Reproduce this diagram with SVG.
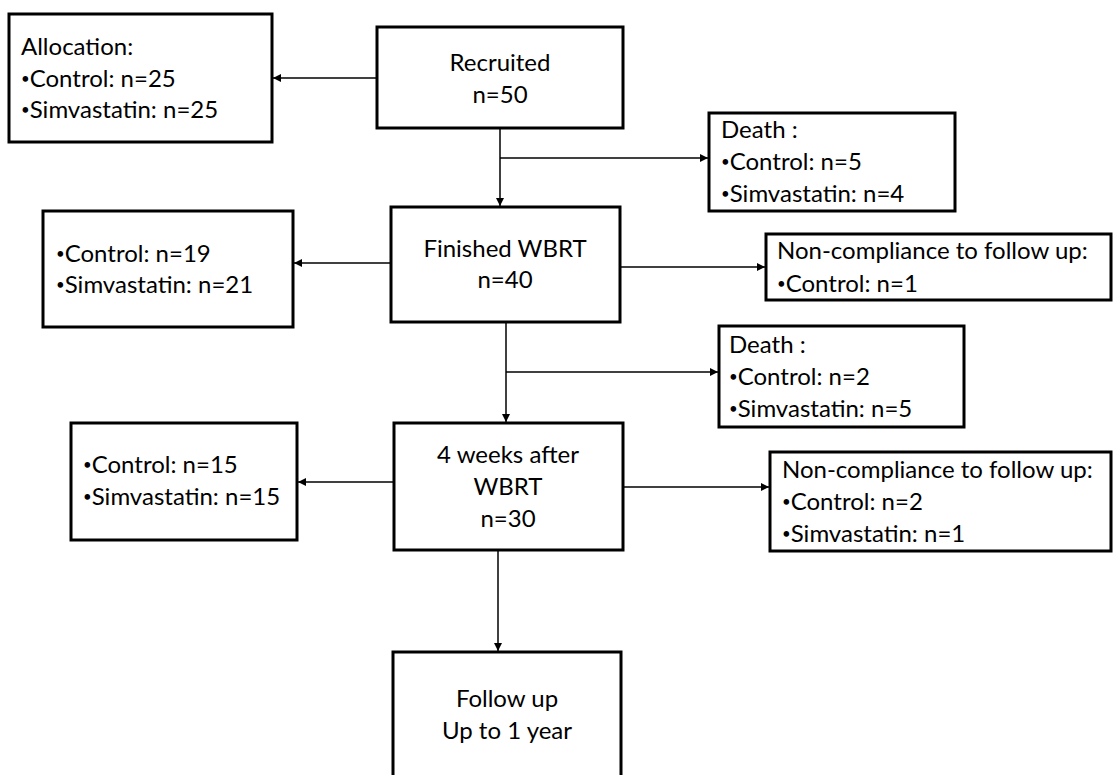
<svg xmlns="http://www.w3.org/2000/svg" width="1113" height="775" viewBox="0 0 1113 775">
<defs>
<style>
.box{fill:#fff;stroke:#000;stroke-width:3}
.t{font-family:Lato,"Open Sans",sans-serif;font-size:24px;fill:#000}
.c{text-anchor:middle}
.b{font-size:15px}
.ln{stroke:#000;stroke-width:1.5;fill:none}
</style>
<marker id="ah" viewBox="0 0 10 10" refX="10" refY="5" markerWidth="8" markerHeight="8" markerUnits="userSpaceOnUse" orient="auto"><path d="M0,0 L10,5 L0,10 z" fill="#000"/></marker>
</defs>
<rect width="1113" height="775" fill="#fff"/>
<g id="connectors">
<line class="ln" x1="377" y1="78" x2="273" y2="78" marker-end="url(#ah)"/>
<line class="ln" x1="500" y1="128" x2="500" y2="206" marker-end="url(#ah)"/>
<line class="ln" x1="500" y1="158" x2="708" y2="158" marker-end="url(#ah)"/>
<line class="ln" x1="391" y1="263" x2="294" y2="263" marker-end="url(#ah)"/>
<line class="ln" x1="620" y1="267" x2="765" y2="267" marker-end="url(#ah)"/>
<line class="ln" x1="506" y1="322" x2="506" y2="422" marker-end="url(#ah)"/>
<line class="ln" x1="506" y1="372" x2="718" y2="372" marker-end="url(#ah)"/>
<line class="ln" x1="397" y1="482" x2="298" y2="482" marker-end="url(#ah)"/>
<line class="ln" x1="623" y1="487" x2="769" y2="487" marker-end="url(#ah)"/>
<line class="ln" x1="498" y1="550" x2="498" y2="651" marker-end="url(#ah)"/>
</g>
<g id="allocation"><rect class="box" x="9" y="14" width="263" height="128"/>
<text class="t" x="21" y="55">Allocation:</text>
<text class="t" x="21" y="87"><tspan class="b" dy="-3">•</tspan><tspan dy="3">Control: n=25</tspan></text>
<text class="t" x="21" y="118"><tspan class="b" dy="-3">•</tspan><tspan dy="3">Simvastatin: n=25</tspan></text></g>
<g id="recruited"><rect class="box" x="377" y="27" width="246" height="101"/>
<text class="t c" x="500" y="71">Recruited</text><text class="t c" x="500" y="103">n=50</text></g>
<g id="death1"><rect class="box" x="709" y="113" width="246" height="98"/>
<text class="t" x="721" y="138">Death :</text>
<text class="t" x="721" y="170"><tspan class="b" dy="-3">•</tspan><tspan dy="3">Control: n=5</tspan></text>
<text class="t" x="721" y="202"><tspan class="b" dy="-3">•</tspan><tspan dy="3">Simvastatin: n=4</tspan></text></g>
<g id="wbrt-groups"><rect class="box" x="43" y="211" width="250" height="116"/>
<text class="t" x="56" y="262"><tspan class="b" dy="-3">•</tspan><tspan dy="3">Control: n=19</tspan></text>
<text class="t" x="56" y="293"><tspan class="b" dy="-3">•</tspan><tspan dy="3">Simvastatin: n=21</tspan></text></g>
<g id="finished"><rect class="box" x="391" y="207" width="229" height="115"/>
<text class="t c" x="505" y="257">Finished WBRT</text><text class="t c" x="505" y="288">n=40</text></g>
<g id="noncomp1"><rect class="box" x="766" y="234" width="345" height="66"/>
<text class="t" x="777" y="259">Non-compliance to follow up:</text>
<text class="t" x="777" y="292"><tspan class="b" dy="-3">•</tspan><tspan dy="3">Control: n=1</tspan></text></g>
<g id="death2"><rect class="box" x="719" y="326" width="245" height="101"/>
<text class="t" x="729" y="353">Death :</text>
<text class="t" x="729" y="385"><tspan class="b" dy="-3">•</tspan><tspan dy="3">Control: n=2</tspan></text>
<text class="t" x="729" y="417"><tspan class="b" dy="-3">•</tspan><tspan dy="3">Simvastatin: n=5</tspan></text></g>
<g id="week4-groups"><rect class="box" x="71" y="423" width="226" height="117"/>
<text class="t" x="83" y="473"><tspan class="b" dy="-3">•</tspan><tspan dy="3">Control: n=15</tspan></text>
<text class="t" x="83" y="505"><tspan class="b" dy="-3">•</tspan><tspan dy="3">Simvastatin: n=15</tspan></text></g>
<g id="week4"><rect class="box" x="394" y="423" width="229" height="127"/>
<text class="t c" x="508" y="463">4 weeks after</text><text class="t c" x="508" y="495">WBRT</text><text class="t c" x="508" y="527">n=30</text></g>
<g id="noncomp2"><rect class="box" x="770" y="452" width="341" height="99"/>
<text class="t" x="782" y="478">Non-compliance to follow up:</text>
<text class="t" x="782" y="510"><tspan class="b" dy="-3">•</tspan><tspan dy="3">Control: n=2</tspan></text>
<text class="t" x="782" y="542"><tspan class="b" dy="-3">•</tspan><tspan dy="3">Simvastatin: n=1</tspan></text></g>
<g id="followup"><rect class="box" x="393" y="652" width="228" height="140"/>
<text class="t c" x="507" y="707">Follow up</text><text class="t c" x="507" y="739">Up to 1 year</text></g>
</svg>
